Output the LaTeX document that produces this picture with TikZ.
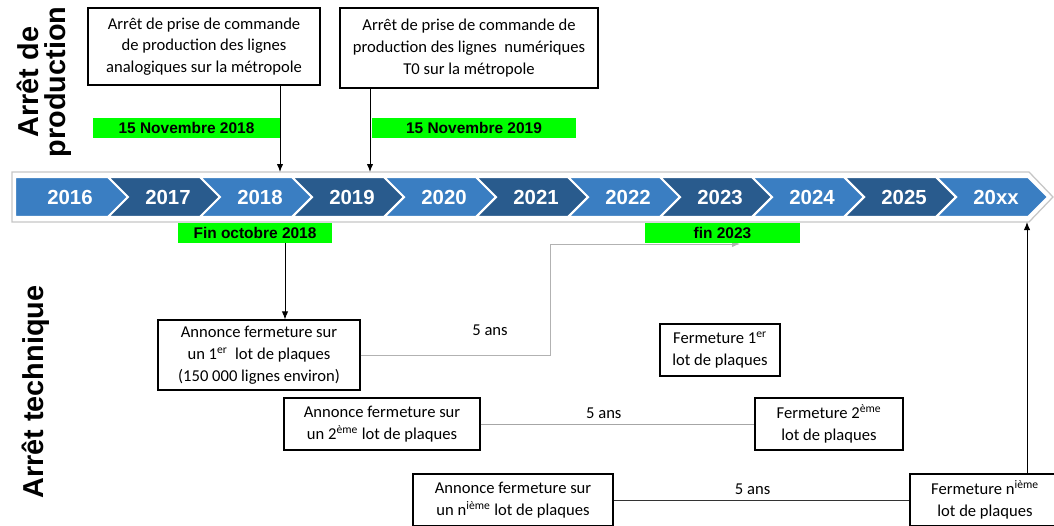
\documentclass[tikz,border=0pt]{standalone}
\usepackage{fontspec}
\setmainfont{Carlito}
\setsansfont{Liberation Sans}
\usetikzlibrary{arrows.meta}
\definecolor{lb}{RGB}{58,126,194}
\definecolor{db}{RGB}{41,91,141}
\tikzset{
  box/.style={draw,line width=0.8pt,align=center,inner sep=0pt,
    font=\fontsize{11.8}{15.5}\selectfont},
  glab/.style={fill=green,inner sep=0pt,minimum height=5mm,
    font=\sffamily\bfseries\fontsize{11}{12}\selectfont},
  lbl/.style={font=\fontsize{11.8}{13}\selectfont},
  arr/.style={line width=0.7pt,-{Latex[length=2mm,width=1.6mm]}},
  link/.style={line width=0.7pt,draw=#1},
  side/.style={rotate=90,align=center,
    font=\sffamily\bfseries\fontsize{20.5}{19.5}\selectfont},
  yr/.style={text=white,font=\sffamily\bfseries\fontsize{14.5}{16}\selectfont}
}

\begin{document}
\begin{tikzpicture}[x=0.25mm,y=-0.25mm]
\useasboundingbox (0,0) rectangle (1054,525);
\node[side] (ap) at (44,82) {Arrêt de\\production};
\node[side] (at) at (36,392) {Arrêt technique};
% frise
\draw[gray!45,line width=0.9pt] (12,172) -- (1029,172) -- (1053,197) -- (1029,222) -- (12,222) -- cycle;
\fill[lb,draw=white,line width=1.5pt] (15,177) -- (108,177) -- (128,197) -- (108,217) -- (15,217) -- cycle;
\node[yr] (y0) at (70,197) {2016};
\foreach \yr/\col [count=\i] in {2017/db,2018/lb,2019/db,2020/lb,2021/db,2022/lb,2023/db,2024/lb,2025/db,20xx/lb}{
  \pgfmathsetmacro\xa{108+92*(\i-1)}
  \pgfmathsetmacro\xb{\xa+92}
  \fill[\col,draw=white,line width=1.5pt] (\xa,177) -- (\xb,177) -- (\xb+20,197)
    -- (\xb,217) -- (\xa,217) -- (\xa+20,197) -- cycle;
  \node[yr] (y\i) at (\xa+60,197) {\yr};
}
% arret de production
\node[box,minimum width=58mm,minimum height=19.25mm] (pa) at (204,46.5)
  {Arrêt de prise de commande\\de production des lignes\\analogiques sur la métropole};
\node[box,minimum width=64.5mm,minimum height=20mm] (pb) at (469,48)
  {Arrêt de prise de commande de\\production des lignes~ numériques\\T0 sur la métropole};
\node[glab,minimum width=46.75mm] (ga) at (186.5,128) {15 Novembre 2018};
\node[glab,minimum width=51mm] (gb) at (474,128) {15 Novembre 2019};
\coordinate (ta) at (280,172);
\coordinate (tb) at (370,172);
\draw[arr] (pa.south -| ta) -- (ta);
\draw[arr] (pb.south -| tb) -- (tb);
% arret technique
\node[glab,minimum width=38.5mm] (gc) at (255,233) {Fin octobre 2018};
\node[box,minimum width=50.5mm,minimum height=17.5mm] (a1) at (259,355)
  {Annonce fermeture sur\\un 1\textsuperscript{er}~ lot de plaques\\(150 000 lignes environ)};
\coordinate (c1) at (285,0);
\draw[arr] (gc.south -| c1) -- (a1.north -| c1);
\coordinate (k1) at (550,244);
\coordinate (e1) at (740,244);
\draw[link=gray!60,arr] (a1.east) -| (k1) -- (e1);
\node[glab,minimum width=38.75mm] (gd) at (722.5,233) {fin 2023};
\node[lbl] (n1) at (490,330) {5 ans};
\node[box,minimum width=30mm,minimum height=13mm] (f1) at (720,350)
  {Fermeture 1\textsuperscript{er}\\lot de plaques};
\node[box,minimum width=49mm,minimum height=13mm] (a2) at (382,424)
  {Annonce fermeture sur\\un 2\textsuperscript{ème} lot de plaques};
\node[box,minimum width=37mm,minimum height=13mm] (f2) at (829,424)
  {Fermeture 2\textsuperscript{ème}\\lot de plaques};
\draw[link=gray!70] (a2) -- node[lbl,above,pos=0.45] (n2) {5 ans} (f2);
\node[box,minimum width=50mm,minimum height=13mm] (a3) at (513,500)
  {Annonce fermeture sur\\un n\textsuperscript{ième} lot de plaques};
\node[box,minimum width=37.5mm,minimum height=13mm] (f3) at (985,500)
  {Fermeture n\textsuperscript{ième}\\lot de plaques};
\draw[link=black!80] (a3) -- node[lbl,above,pos=0.47] (n3) {5 ans} (f3);
\coordinate (tx) at (1027,222);
\draw[arr] (f3.north -| tx) -- (tx);
\end{tikzpicture}
\end{document}
